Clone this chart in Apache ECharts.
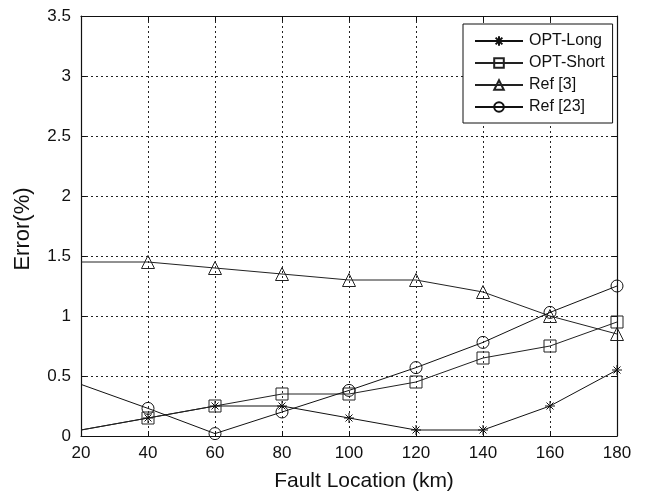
<!DOCTYPE html>
<html>
<head>
<meta charset="utf-8">
<script src="https://cdn.jsdelivr.net/npm/echarts@6/dist/echarts.min.js"></script>
<style>
  html, body { margin: 0; padding: 0; background: #fff; }
  #chart { width: 646px; height: 497px; }
</style>
</head>
<body>
<div id="chart"></div>
<script>
// Fault location (km) against location error (%)
const faultLocation = [20, 40, 60, 80, 100, 120, 140, 160, 180];
const optLong  = [0.05, 0.15, 0.25, 0.25, 0.15, 0.05, 0.05, 0.25, 0.55];
const optShort = [0.05, 0.15, 0.25, 0.35, 0.35, 0.45, 0.65, 0.75, 0.95];
const ref3     = [1.45, 1.45, 1.40, 1.35, 1.30, 1.30, 1.20, 1.00, 0.85];
const ref23    = [0.43, 0.23, 0.02, 0.20, 0.38, 0.57, 0.78, 1.03, 1.25];
const seriesNames = ['OPT-Long', 'OPT-Short', 'Ref [3]', 'Ref [23]'];

const FONT = '"Liberation Sans", Arial, Helvetica, sans-serif';
const STAR = 'path://M0,-10L0,10M-10,0L10,0M-7,-7L7,7M-7,7L7,-7';

// first sample sits on the axis edge and carries no marker
function pairs(values) {
  return faultLocation.map((x, i) =>
    i === 0 ? { value: [x, values[i]], symbol: 'none' } : [x, values[i]]);
}

function lineSeries(name, values, symbol, size, color) {
  return {
    name: name,
    type: 'line',
    data: pairs(values),
    symbol: symbol,
    symbolSize: size,
    showAllSymbol: true,
    clip: false,
    lineStyle: { color: color, width: 1 },
    itemStyle: { color: 'rgba(0,0,0,0)', borderColor: color, borderWidth: 1 },
    emphasis: { disabled: true },
    z: 3
  };
}

const gridLine = { show: true, lineStyle: { color: '#222', type: [2, 3], width: 1 } };
const tick = { show: true, inside: true, length: 5, lineStyle: { color: '#111' } };
const axisLine = { show: true, onZero: false, lineStyle: { color: '#111', width: 1.2 } };

const chart = echarts.init(document.getElementById('chart'), null, { renderer: 'canvas' });
chart.setOption({
  backgroundColor: '#fff',
  animation: false,
  grid: { left: 81, right: 29, top: 16, bottom: 60 },
  legend: {
    data: seriesNames,
    orient: 'vertical',
    left: 463,
    top: 24,
    padding: [9, 8, 8, 11],
    itemWidth: 48,
    itemHeight: 12,
    itemGap: 6,
    backgroundColor: '#fff',
    borderColor: '#111',
    borderWidth: 1,
    textStyle: { fontFamily: FONT, fontSize: 16, color: '#111', padding: [0, 0, 0, 1] }
  },
  xAxis: [
    {
      type: 'value', min: 20, max: 180, interval: 20,
      name: 'Fault Location (km)', nameLocation: 'middle', nameGap: 35,
      nameTextStyle: { fontFamily: FONT, fontSize: 21, color: '#111', padding: [0, 0, 0, 30] },
      axisLine: axisLine, axisTick: tick, splitLine: gridLine,
      axisLabel: { fontFamily: FONT, fontSize: 17, color: '#111', margin: 9 }
    },
    {
      type: 'value', position: 'top', min: 20, max: 180, interval: 20,
      axisLine: axisLine, axisTick: tick, splitLine: { show: false },
      axisLabel: { show: false }
    }
  ],
  yAxis: [
    {
      type: 'value', min: 0, max: 3.5, interval: 0.5,
      name: 'Error(%)', nameLocation: 'middle', nameGap: 47,
      nameTextStyle: { fontFamily: FONT, fontSize: 22, color: '#111', padding: [0, 6, 0, 0] },
      axisLine: axisLine, axisTick: tick, splitLine: gridLine,
      axisLabel: { fontFamily: FONT, fontSize: 17, color: '#111', margin: 10 }
    },
    {
      type: 'value', position: 'right', min: 0, max: 3.5, interval: 0.5,
      axisLine: axisLine, axisTick: tick, splitLine: { show: false },
      axisLabel: { show: false }
    }
  ],
  series: [
    lineSeries('OPT-Long', optLong, STAR, 10, '#111'),
    lineSeries('OPT-Short', optShort, 'rect', 12, '#222'),
    lineSeries('Ref [3]', ref3, 'triangle', 13, '#222'),
    lineSeries('Ref [23]', ref23, 'circle', 12, '#111')
  ]
});
</script>
</body>
</html>
